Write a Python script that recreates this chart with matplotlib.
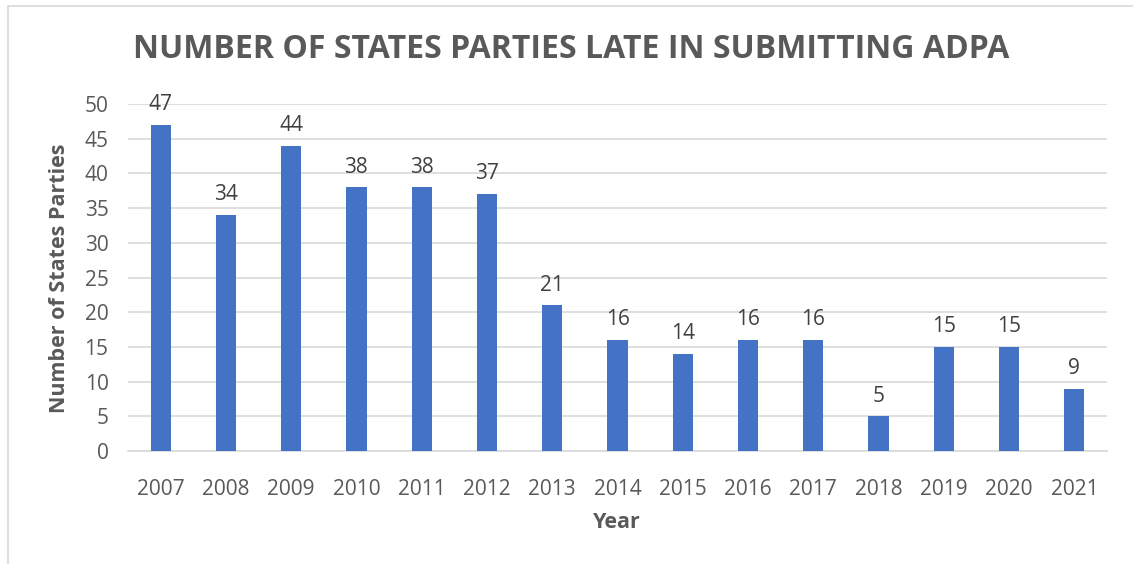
import matplotlib
matplotlib.use("Agg")
import matplotlib.pyplot as plt
from matplotlib.patches import Rectangle

years = ["2007", "2008", "2009", "2010", "2011", "2012", "2013", "2014",
         "2015", "2016", "2017", "2018", "2019", "2020", "2021"]
late_counts = [47, 34, 44, 38, 38, 37, 21, 16, 14, 16, 16, 5, 15, 15, 9]
y_ticks = [0, 5, 10, 15, 20, 25, 30, 35, 40, 45, 50]

plt.rcParams['font.family'] = ['Open Sans', 'DejaVu Sans']
TXT = "#595959"

W, H = 1133, 564
fig = plt.figure(figsize=(W / 100, H / 100), dpi=100)
fig.patches.append(Rectangle((8 / W, -0.1), 1.2, 1 - 6 / H + 0.1, transform=fig.transFigure,
                             fill=False, edgecolor="#D9D9D9", linewidth=1.2))

ax = fig.add_axes([128 / W, 1 - 451 / H, (1107 - 128) / W, (451 - 104) / H])
x = list(range(len(years)))
ax.bar(x, late_counts, width=0.31, color="#4472C4", zorder=3)
for xi, v in zip(x, late_counts):
    ax.annotate(str(v), (xi, v), xytext=(0, 7), textcoords="offset points",
                ha="center", va="bottom", fontsize=15, color="#404040")

ax.set_xlim(-0.5, len(years) - 0.5)
ax.set_ylim(0, 50)
ax.set_yticks(y_ticks)
ax.set_xticks(x)
ax.set_xticklabels(years)
ax.tick_params(axis="both", length=0, labelsize=15, colors=TXT)
ax.tick_params(axis="x", pad=20)
ax.tick_params(axis="y", pad=14)
ax.grid(axis="y", color="#D9D9D9", linewidth=1.2, zorder=0)
for s in ["top", "right", "left"]:
    ax.spines[s].set_visible(False)
ax.spines["bottom"].set_color("#D9D9D9")
ax.spines["bottom"].set_linewidth(1.2)

fig.text(571 / W, 1 - 49 / H, "NUMBER OF STATES PARTIES LATE IN SUBMITTING ADPA",
         ha="center", va="center", fontsize=23, fontweight="bold", color=TXT)
fig.text(60 / W, 1 - 278 / H, "Number of States Parties", rotation=90,
         ha="center", va="center", fontsize=15.5, fontweight="bold", color=TXT)
fig.text(617 / W, 1 - 522 / H, "Year", ha="center", va="center",
         fontsize=15.5, fontweight="bold", color=TXT)

fig.savefig("out.png", dpi=100)
